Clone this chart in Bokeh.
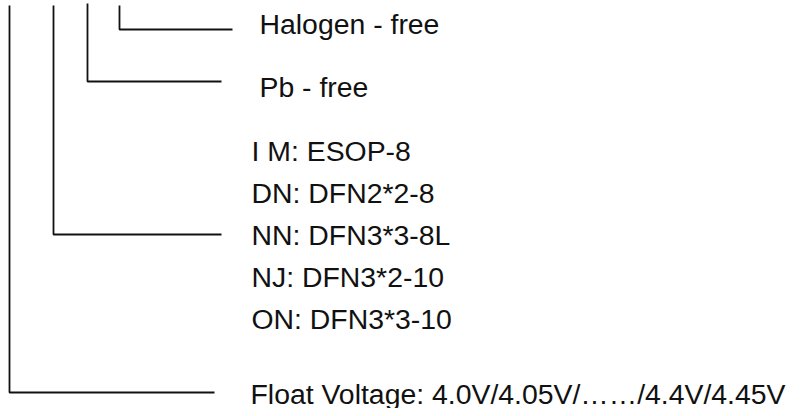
from bokeh.plotting import figure
from bokeh.models import Range1d, ColumnDataSource
from bokeh.core.properties import value
from bokeh.embed import file_html
from bokeh.resources import INLINE

# Bracket connectors (image pixel coordinates): vertical top -> corner -> horizontal end
bracket_x = [9, 53, 87, 119]
bracket_top = [5, 5, 3, 5]
bracket_y = [392, 234, 81, 29]
bracket_end = [214, 221, 221, 232]

# Labels
labels = [
    "Halogen - free",
    "Pb - free",
    "I M: ESOP-8",
    "DN: DFN2*2-8",
    "NN: DFN3*3-8L",
    "NJ: DFN3*2-10",
    "ON: DFN3*3-10",
    "Float Voltage: 4.0V/4.05V/……/4.4V/4.45V",
]
label_x = [259, 259, 251, 251, 251, 251, 251, 250]
label_y = [23, 86, 150, 192, 234, 276, 318, 393]

W, H = 793, 408
p = figure(width=W, height=H, output_backend="svg", toolbar_location=None,
           x_range=Range1d(0, W), y_range=Range1d(H, 0),
           min_border=0)
p.axis.visible = False
p.grid.visible = False
p.outline_line_color = None
p.background_fill_color = "white"
p.border_fill_color = "white"

xs = [[bx, bx, be] for bx, be in zip(bracket_x, bracket_end)]
ys = [[bt, by, by] for bt, by in zip(bracket_top, bracket_y)]
p.multi_line(xs=xs, ys=ys, line_color="#111111", line_width=1.8)

src = ColumnDataSource(dict(x=label_x, y=label_y, t=labels))
p.text(x="x", y="y", text="t", source=src, text_font=value("Liberation Sans"),
       text_font_size="28.4px", text_color="#111111",
       text_align="left", text_baseline="middle")

open("out.html", "w").write(file_html(p, INLINE))
